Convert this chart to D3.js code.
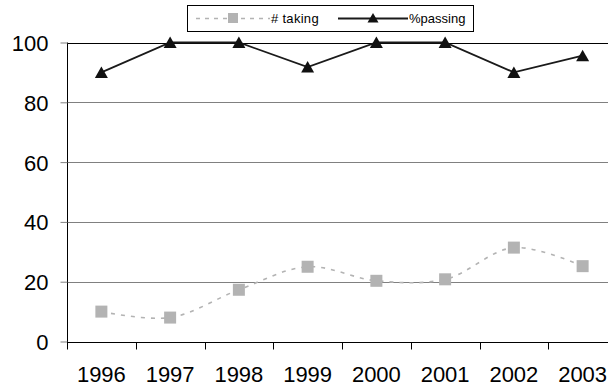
<!DOCTYPE html>
<html>
<meta charset="utf-8">
<head>
<style>
body { margin: 0; background: #fff; }
svg { display: block; font-family: "Liberation Sans", Arial, sans-serif; }
</style>
<script src="https://d3js.org/d3.v7.min.js"></script>
</head>
<body>
<script>
var years = ["1996", "1997", "1998", "1999", "2000", "2001", "2002", "2003"];
var taking = [10, 8, 17.3, 25, 20.3, 20.8, 31.4, 25.2];
var passing = [90, 100, 100, 91.8, 100, 100, 90, 95.6];
var yTicks = [0, 20, 40, 60, 80, 100];

var W = 608, H = 388;
var plotLeft = 67, plotRight = 617, plotTop = 42.5, plotBottom = 341.5;

var svg = d3.select("body").append("svg")
    .attr("width", W)
    .attr("height", H);

var x = d3.scaleBand().domain(years).range([plotLeft, plotRight]);
var y = d3.scaleLinear().domain([0, 100]).range([plotBottom, plotTop]);
var cx = function(d, i) { return x(years[i]) + x.bandwidth() / 2; };

// gridlines
svg.append("g").selectAll("line")
    .data(yTicks.filter(function(t) { return t > 0 && t < 100; }))
  .enter().append("line")
    .attr("x1", plotLeft).attr("x2", W)
    .attr("y1", function(d) { return Math.round(y(d)) + 0.5; })
    .attr("y2", function(d) { return Math.round(y(d)) + 0.5; })
    .attr("stroke", "#808080").attr("stroke-width", 1);

// top border at 100
svg.append("line")
    .attr("x1", plotLeft).attr("x2", W)
    .attr("y1", Math.round(y(100)) + 0.5).attr("y2", Math.round(y(100)) + 0.5)
    .attr("stroke", "#000").attr("stroke-width", 1);

// y axis
var yAxis = d3.axisLeft(y).tickValues(yTicks).tickSize(7).tickPadding(12);
var gy = svg.append("g")
    .attr("transform", "translate(" + (plotLeft + 0.5) + ",0)")
    .call(yAxis);
gy.select(".domain").attr("stroke", "#000").attr("d", "M0," + y(100) + "V" + (plotBottom + 7));
gy.selectAll(".tick line").attr("stroke", "#808080");
gy.selectAll(".tick text")
    .attr("font-size", "22px")
    .attr("fill", "#000")
    .attr("dy", "0.36em")
    .attr("font-family", "Liberation Sans, Arial, sans-serif");

// x axis: ticks between categories
var gx = svg.append("g")
    .attr("transform", "translate(0," + (Math.round(plotBottom) + 0.5) + ")");
gx.append("line")
    .attr("x1", plotLeft).attr("x2", W)
    .attr("stroke", "#000");
gx.selectAll(".tk")
    .data(years)
  .enter().append("line")
    .attr("x1", function(d) { return Math.round(x(d)) + 0.5; })
    .attr("x2", function(d) { return Math.round(x(d)) + 0.5; })
    .attr("y1", 0).attr("y2", 7)
    .attr("stroke", "#000");
gx.selectAll("text")
    .data(years)
  .enter().append("text")
    .attr("x", function(d) { return x(d) + x.bandwidth() / 2; })
    .attr("y", 39)
    .attr("text-anchor", "middle")
    .attr("font-size", "22px")
    .text(function(d) { return d; });

// # taking series (smoothed dashed)
var lineTake = d3.line()
    .x(cx)
    .y(function(d) { return y(d); })
    .curve(d3.curveCatmullRom.alpha(0.5));

svg.append("path")
    .datum(taking)
    .attr("d", lineTake)
    .attr("fill", "none")
    .attr("stroke", "#b3b3b3")
    .attr("stroke-width", 1.6)
    .attr("stroke-dasharray", "4,6");

svg.append("g").selectAll("rect")
    .data(taking)
  .enter().append("rect")
    .attr("x", function(d, i) { return cx(d, i) - 6; })
    .attr("y", function(d) { return y(d) - 6; })
    .attr("width", 12).attr("height", 12)
    .attr("fill", "#b3b3b3");

// %passing series
var linePass = d3.line()
    .x(cx)
    .y(function(d) { return y(d); });

svg.append("path")
    .datum(passing)
    .attr("d", linePass)
    .attr("fill", "none")
    .attr("stroke", "#1a1a1a")
    .attr("stroke-width", 1.8);

var tri = "M0,-6L6.5,5.5L-6.5,5.5Z";
svg.append("g").selectAll("path")
    .data(passing)
  .enter().append("path")
    .attr("d", tri)
    .attr("transform", function(d, i) { return "translate(" + cx(d, i) + "," + y(d) + ")"; })
    .attr("fill", "#111");

// legend
var lg = svg.append("g");
lg.append("rect")
    .attr("x", 187.5).attr("y", 5.5)
    .attr("width", 286).attr("height", 26)
    .attr("fill", "#fff")
    .attr("stroke", "#000").attr("stroke-width", 1);

lg.append("line")
    .attr("x1", 196).attr("x2", 270)
    .attr("y1", 18.5).attr("y2", 18.5)
    .attr("stroke", "#b3b3b3").attr("stroke-width", 1.6)
    .attr("stroke-dasharray", "4,5");
lg.append("rect")
    .attr("x", 228).attr("y", 13)
    .attr("width", 10).attr("height", 10)
    .attr("fill", "#b3b3b3");
lg.append("text")
    .attr("x", 271).attr("y", 23)
    .attr("font-size", "13px")
    .attr("letter-spacing", "0.3px")
    .text("# taking");

lg.append("line")
    .attr("x1", 338).attr("x2", 408)
    .attr("y1", 18.5).attr("y2", 18.5)
    .attr("stroke", "#1a1a1a").attr("stroke-width", 1.8);
lg.append("path")
    .attr("d", "M0,-5L5.5,4.5L-5.5,4.5Z")
    .attr("transform", "translate(373,18)")
    .attr("fill", "#111");
lg.append("text")
    .attr("x", 409).attr("y", 23)
    .attr("font-size", "13px")
    .text("%passing");
</script>
</body>
</html>
